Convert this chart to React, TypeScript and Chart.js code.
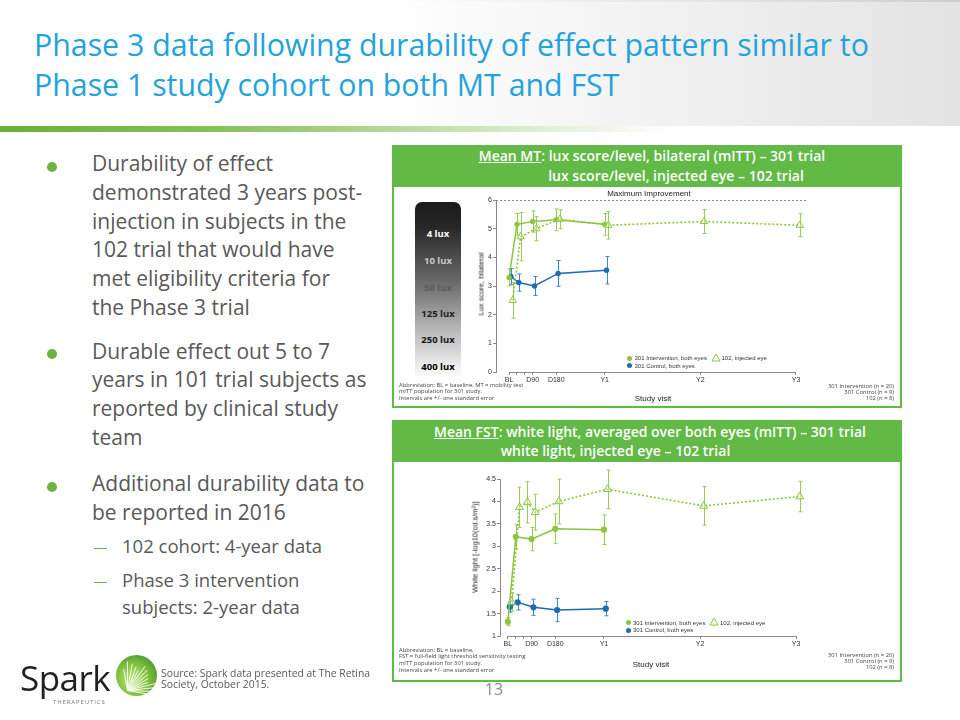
import React, { useEffect, useRef } from "react";
import { Chart, registerables } from "chart.js";
Chart.register(...registerables);

// ---------------- data ----------------
const VISIT_TICKS = [0, 30, 60, 90, 180, 365, 730, 1095];
const VISIT_TICK_LABELS = ["BL", "", "", "D90", "D180", "Y1", "Y2", "Y3"];

const VISITS_301 = [0, 30, 90, 180, 365];
const VISITS_102_MT = [0, 30, 90, 180, 365, 730, 1095];
const VISITS_102_FST = [0, 30, 60, 90, 180, 365, 730, 1095];

const MT_301_INT = [3.3, 5.15, 5.25, 5.31, 5.15];
const MT_301_INT_SE = [0.3, 0.38, 0.37, 0.38, 0.38];
const MT_301_CTL = [3.33, 3.12, 3.0, 3.44, 3.55];
const MT_301_CTL_SE = [0.28, 0.3, 0.33, 0.45, 0.48];
const MT_102 = [2.5, 4.72, 5.0, 5.33, 5.12, 5.25, 5.12];
const MT_102_SE = [0.62, 0.84, 0.42, 0.33, 0.48, 0.42, 0.4];
const MT_MAX_IMPROVEMENT = 6;

const FST_301_INT = [1.32, 3.21, 3.16, 3.39, 3.37];
const FST_301_INT_SE = [0.09, 0.27, 0.26, 0.33, 0.33];
const FST_301_CTL = [1.65, 1.75, 1.64, 1.58, 1.61];
const FST_301_CTL_SE = [0.12, 0.17, 0.18, 0.26, 0.16];
const FST_102 = [1.76, 3.87, 3.98, 3.76, 4.0, 4.27, 3.9, 4.11];
const FST_102_SE = [0.2, 0.45, 0.46, 0.4, 0.5, 0.43, 0.43, 0.34];

const LUX_LEVELS = ["4 lux", "10 lux", "50 lux", "125 lux", "250 lux", "400 lux"];
const SERIES_NAMES = ["301 Intervention, both eyes", "301 Control, both eyes", "102, injected eye"];
const N_LINES = ["301 Intervention (n = 20)", "301 Control (n = 9)", "102 (n = 8)"];

// ---------------- styles ----------------
const FONT = '"Open Sans", sans-serif';
const ARIAL = '"Liberation Sans", Arial, sans-serif';
const GREEN = "#8cc63f";
const GREEN_ERR = "#98cd55";
const BLUE = "#1d6cb3";
const BLUE_ERR = "#3d86c8";
const PANEL_GREEN = "#62b946";
const AXIS = "#8a8a8a";
const DODGE_CTL = 7;
const DODGE_102 = 14;

function pts(days: number[], vals: number[], dodge: number) {
  return days.map((d, i) => ({ x: d + dodge, y: vals[i] }));
}

const errorBarPlugin = {
  id: "errorBars",
  beforeDatasetsDraw(chart: any) {
    const { ctx } = chart;
    const ys = chart.scales.y;
    chart.data.datasets.forEach((ds: any, di: number) => {
      if (!ds.errors) return;
      const meta = chart.getDatasetMeta(di);
      ctx.save();
      ctx.strokeStyle = ds.errorColor;
      ctx.lineWidth = 1;
      const cap = ds.capWidth || 2;
      meta.data.forEach((pt: any, i: number) => {
        const v = ds.data[i].y;
        const e = ds.errors[i];
        const x = Math.round(pt.x) + 0.5;
        const y1 = ys.getPixelForValue(v + e);
        const y2 = ys.getPixelForValue(v - e);
        ctx.beginPath();
        ctx.moveTo(x, y1);
        ctx.lineTo(x, y2);
        ctx.moveTo(x - cap, y1);
        ctx.lineTo(x + cap, y1);
        ctx.moveTo(x - cap, y2);
        ctx.lineTo(x + cap, y2);
        ctx.stroke();
      });
      ctx.restore();
    });
  },
};

const axesPlugin = {
  id: "customAxes",
  beforeDatasetsDraw(chart: any) {
    const { ctx, chartArea } = chart;
    const xs = chart.scales.x;
    const ys = chart.scales.y;
    ctx.save();
    ctx.strokeStyle = AXIS;
    ctx.lineWidth = 1;
    const yb = Math.round(chartArea.bottom) + 0.5;
    ctx.beginPath();
    ctx.moveTo(xs.getPixelForValue(VISIT_TICKS[0]), yb);
    ctx.lineTo(xs.getPixelForValue(VISIT_TICKS[VISIT_TICKS.length - 1]), yb);
    ctx.stroke();
    const maxLine = chart.options.plugins.customAxes?.maxLine;
    if (maxLine != null) {
      const y = Math.round(ys.getPixelForValue(maxLine)) + 0.5;
      ctx.setLineDash([2, 2]);
      ctx.strokeStyle = "#8c8c8c";
      ctx.beginPath();
      ctx.moveTo(chartArea.left, y);
      ctx.lineTo(chartArea.right, y);
      ctx.stroke();
    }
    ctx.restore();
  },
};

type ChartSpec = {
  int: number[];
  intSe: number[];
  ctl: number[];
  ctlSe: number[];
  v102: number[];
  se102: number[];
  visits102: number[];
  yMin: number;
  yMax: number;
  yStep: number;
  xMin: number;
  xMax: number;
  padTop: number;
  padRight: number;
  yWidth: number;
  xHeight: number;
  maxLine?: number;
  r: number;
  tri: number;
};

function buildConfig(s: ChartSpec): any {
  const tickFont = { family: ARIAL, size: 7 };
  return {
    type: "line",
    data: {
      datasets: [
        {
          label: SERIES_NAMES[2],
          data: pts(s.visits102, s.v102, DODGE_102),
          borderColor: GREEN,
          backgroundColor: "rgba(255,255,255,0)",
          borderWidth: 1.6,
          borderDash: [2, 2],
          pointStyle: "triangle",
          pointRadius: s.tri,
          pointBorderWidth: 1,
          pointBorderColor: GREEN,
          pointBackgroundColor: "rgba(255,255,255,0.35)",
          errors: s.se102,
          errorColor: GREEN_ERR,
          capWidth: 2,
          clip: false,
        },
        {
          label: SERIES_NAMES[0],
          data: pts(VISITS_301, s.int, 0),
          borderColor: GREEN,
          backgroundColor: GREEN,
          borderWidth: 1.5,
          pointRadius: s.r,
          pointBorderWidth: 0,
          pointBackgroundColor: GREEN,
          errors: s.intSe,
          errorColor: GREEN_ERR,
          capWidth: 2,
          clip: false,
        },
        {
          label: SERIES_NAMES[1],
          data: pts(VISITS_301, s.ctl, DODGE_CTL),
          borderColor: BLUE,
          backgroundColor: BLUE,
          borderWidth: 1.5,
          pointRadius: s.r,
          pointBorderWidth: 0,
          pointBackgroundColor: BLUE,
          errors: s.ctlSe,
          errorColor: BLUE_ERR,
          capWidth: 2,
          clip: false,
        },
      ],
    },
    options: {
      animation: false,
      responsive: false,
      events: [],
      layout: { autoPadding: false, padding: { left: 0, top: s.padTop, right: s.padRight, bottom: 0 } },
      plugins: {
        legend: { display: false },
        tooltip: { enabled: false },
        customAxes: { maxLine: s.maxLine },
      },
      scales: {
        x: {
          type: "linear",
          min: s.xMin,
          max: s.xMax,
          afterBuildTicks: (sc: any) => {
            sc.ticks = VISIT_TICKS.map((v) => ({ value: v }));
          },
          afterFit: (sc: any) => {
            sc.height = s.xHeight;
          },
          ticks: {
            autoSkip: false,
            maxRotation: 0,
            padding: 1,
            font: tickFont,
            color: "#333",
            callback: (_v: any, i: number) => VISIT_TICK_LABELS[i],
          },
          grid: { display: true, drawOnChartArea: false, drawTicks: true, tickLength: 3, color: AXIS },
          border: { display: false },
        },
        y: {
          min: s.yMin,
          max: s.yMax,
          afterFit: (sc: any) => {
            sc.width = s.yWidth;
          },
          ticks: { stepSize: s.yStep, padding: 1, font: tickFont, color: "#333", callback: (v: any) => String(v) },
          grid: { display: true, drawOnChartArea: false, drawTicks: true, tickLength: 3, color: AXIS },
          border: { display: true, color: AXIS, width: 1 },
        },
      },
    },
    plugins: [errorBarPlugin, axesPlugin],
  };
}

function ChartCanvas({ spec, left, top, width, height }: { spec: ChartSpec; left: number; top: number; width: number; height: number }) {
  const ref = useRef<HTMLCanvasElement>(null);
  useEffect(() => {
    const chart = new Chart(ref.current as HTMLCanvasElement, buildConfig(spec));
    return () => chart.destroy();
  }, []);
  return <canvas ref={ref} width={width} height={height} style={{ position: "absolute", left, top, width, height }} />;
}

// ---------------- text helpers ----------------
type TP = {
  x: number;
  y: number;
  size: number;
  lh?: number;
  align?: "left" | "center" | "right";
  color?: string;
  weight?: number;
  family?: string;
  children: any;
  style?: any;
};
function T({ x, y, size, lh, align = "left", color = "#333", weight = 400, family = FONT, children, style }: TP) {
  const L = lh ?? Math.round(size * 1.3);
  const base: any = {
    position: "absolute",
    top: y - L / 2,
    height: L,
    lineHeight: `${L}px`,
    fontSize: size,
    color,
    fontWeight: weight,
    fontFamily: family,
    whiteSpace: "nowrap",
  };
  if (align === "left") base.left = x;
  if (align === "center") {
    base.left = x - 400;
    base.width = 800;
    base.textAlign = "center";
  }
  if (align === "right") {
    base.left = x - 800;
    base.width = 800;
    base.textAlign = "right";
  }
  return <div style={{ ...base, ...style }}>{children}</div>;
}

function Legend({ x, y1, y2 }: { x: number; y1: number; y2: number }) {
  const fs = 6;
  const dot = (c: string, cy: number) => (
    <div style={{ position: "absolute", left: x - 2.5, top: cy - 2.5, width: 5, height: 5, borderRadius: 3, background: c }} />
  );
  return (
    <>
      {dot(GREEN, y1)}
      <T x={x + 5} y={y1} size={fs} family={ARIAL} color="#333">{SERIES_NAMES[0]}</T>
      <svg style={{ position: "absolute", left: x + 81, top: y1 - 5.5 }} width={10} height={9}>
        <polygon points="5,1 9,8 1,8" fill="none" stroke={GREEN} strokeWidth={1} />
      </svg>
      <T x={x + 92} y={y1} size={fs} family={ARIAL} color="#333">{SERIES_NAMES[2]}</T>
      {dot(BLUE, y2)}
      <T x={x + 5} y={y2} size={fs} family={ARIAL} color="#333">{SERIES_NAMES[1]}</T>
    </>
  );
}

function Panel({ top, height }: { top: number; height: number }) {
  return (
    <div
      style={{
        position: "absolute",
        left: 392,
        top,
        width: 510,
        height,
        boxSizing: "border-box",
        border: `2px solid ${PANEL_GREEN}`,
        background: "#fff",
      }}
    >
      <div style={{ position: "absolute", left: 0, top: 0, right: 0, height: 40, background: PANEL_GREEN }} />
    </div>
  );
}

const BULLETS = [
  { cy: 165.7, lines: ["Durability of effect", "demonstrated 3 years post-", "injection in subjects in the", "102 trial that would have", "met eligibility criteria for", "the Phase 3 trial"] },
  { cy: 353, lines: ["Durable effect out 5 to 7", "years in 101 trial subjects as", "reported by clinical study", "team"] },
  { cy: 485.7, lines: ["Additional durability data to", "be reported in 2016"] },
];
const SUBS = [
  { cy: 548.3, lines: ["102 cohort: 4-year data"] },
  { cy: 582.3, lines: ["Phase 3 intervention", "subjects: 2-year data"] },
];

function Logo() {
  const cx = 136;
  const cy = 675;
  const r = 20.5;
  const ox = 127;
  const oy = 690;
  const angles = [-100, -90, -80, -70, -62, -54, -46, -38, -30, -22, -14, -6, 2, 10];
  return (
    <>
      <svg style={{ position: "absolute", left: cx - r - 1, top: cy - r - 1 }} width={2 * r + 2} height={2 * r + 2}>
        <defs>
          <radialGradient id="lg" cx="40%" cy="60%" r="65%">
            <stop offset="0%" stopColor="#c4e48a" />
            <stop offset="55%" stopColor="#86c441" />
            <stop offset="100%" stopColor="#4f9e2f" />
          </radialGradient>
          <clipPath id="cc">
            <circle cx={r + 1} cy={r + 1} r={r} />
          </clipPath>
        </defs>
        <circle cx={r + 1} cy={r + 1} r={r} fill="url(#lg)" />
        <g clipPath="url(#cc)" stroke="#ffffff" strokeWidth={1} opacity={0.9}>
          {angles.map((a, i) => {
            const len = 22 + ((i * 7) % 9);
            const x0 = ox - (cx - r - 1);
            const y0 = oy - (cy - r - 1);
            return (
              <line
                key={i}
                x1={x0}
                y1={y0}
                x2={x0 + len * Math.cos((a * Math.PI) / 180)}
                y2={y0 + len * Math.sin((a * Math.PI) / 180)}
              />
            );
          })}
        </g>
      </svg>
      <T x={20} y={678} size={35} lh={42} color="#231f20" style={{ letterSpacing: -0.5 }}>Spark</T>
      <T x={53} y={702} size={6} lh={8} color="#7a7a7a" style={{ letterSpacing: 0.9 }}>THERAPEUTICS</T>
    </>
  );
}

export default function App() {
  const mtSpec: ChartSpec = {
    int: MT_301_INT,
    intSe: MT_301_INT_SE,
    ctl: MT_301_CTL,
    ctlSe: MT_301_CTL_SE,
    v102: MT_102,
    se102: MT_102_SE,
    visits102: VISITS_102_MT,
    yMin: 0,
    yMax: 6,
    yStep: 1,
    xMin: -50,
    xMax: 1137,
    padTop: 12,
    padRight: 13,
    yWidth: 56,
    xHeight: 41,
    maxLine: MT_MAX_IMPROVEMENT,
    r: 2.7,
    tri: 4.2,
  };
  const fstSpec: ChartSpec = {
    int: FST_301_INT,
    intSe: FST_301_INT_SE,
    ctl: FST_301_CTL,
    ctlSe: FST_301_CTL_SE,
    v102: FST_102,
    se102: FST_102_SE,
    visits102: VISITS_102_FST,
    yMin: 1,
    yMax: 4.5,
    yStep: 0.5,
    xMin: -30,
    xMax: 1110,
    padTop: 12,
    padRight: 20,
    yWidth: 60,
    xHeight: 44,
    r: 3.1,
    tri: 4.6,
  };

  const bulletColor = "#595959";
  return (
    <div style={{ position: "absolute", left: 0, top: 0, width: 960, height: 720, overflow: "hidden", background: "#fff", fontFamily: FONT }}>
      {/* header */}
      <div style={{ position: "absolute", left: 0, top: 0, width: 960, height: 126, background: "linear-gradient(90deg,#ffffff 0%,#ffffff 40%,#e3e3e3 100%)" }} />
      <div style={{ position: "absolute", left: 0, top: 0, width: 960, height: 2, background: "linear-gradient(90deg,#ffffff 40%,#cfcfcf 100%)" }} />
      <div style={{ position: "absolute", left: 0, top: 126, width: 960, height: 6, background: "linear-gradient(90deg,#67b13c 0%,#84c158 22%,#b9da9d 42%,#e4f1da 58%,#ffffff 70%)" }} />
      <T x={34} y={44.5} size={30.3} lh={40} color="#23a3dc">Phase 3 data following durability of effect pattern similar to</T>
      <T x={34} y={84.5} size={30.3} lh={40} color="#23a3dc">Phase 1 study cohort on both MT and FST</T>

      {/* bullets */}
      {BULLETS.map((b, bi) => (
        <React.Fragment key={bi}>
          <div style={{ position: "absolute", left: 47, top: b.cy - 4, width: 10, height: 10, borderRadius: 5, background: "#6cb33f" }} />
          {b.lines.map((ln, i) => (
            <T key={i} x={92} y={b.cy - 2.5 + i * 28.7} size={21} lh={28} color={bulletColor}>{ln}</T>
          ))}
        </React.Fragment>
      ))}
      {SUBS.map((b, bi) => (
        <React.Fragment key={bi}>
          <div style={{ position: "absolute", left: 94, top: b.cy - 0.5, width: 13, height: 1.3, background: "#6cb33f" }} />
          {b.lines.map((ln, i) => (
            <T key={i} x={122} y={b.cy - 2.2 + i * 26.7} size={18.5} lh={26} color={bulletColor}>{ln}</T>
          ))}
        </React.Fragment>
      ))}

      {/* top panel */}
      <Panel top={145} height={263} />
      <T x={652} y={155.5} size={14} lh={19} align="center" color="#fff" weight={600}>
        <span style={{ textDecoration: "underline" }}>Mean MT</span>: lux score/level, bilateral (mITT) – 301 trial
      </T>
      <T x={676} y={175} size={14} lh={19} align="center" color="#fff" weight={600}>lux score/level, injected eye – 102 trial</T>

      <div style={{ position: "absolute", left: 415, top: 202, width: 46, height: 174, borderRadius: "7px 7px 0 0", background: "linear-gradient(180deg,#1b1b1b 0%,#262626 14%,#6f6f6f 48%,#b4b4b4 72%,#fbfbfb 100%)" }} />
      {LUX_LEVELS.map((l, i) => (
        <T key={l} x={438} y={[234.3, 260.7, 287.7, 313.7, 340, 366.7][i]} size={9.5} lh={14} align="center" weight={700}
          color={["#ffffff", "#c9c9c9", "#5c5c5c", "#1f1f1f", "#141414", "#000000"][i]}>{l}</T>
      ))}

      <ChartCanvas spec={mtSpec} left={440} top={188} width={380} height={225} />
      <T x={649} y={194} size={8} family={ARIAL} align="center" color="#222">Maximum Improvement</T>
      <div style={{ position: "absolute", left: 480.5, top: 283.5, transform: "translate(-50%,-50%) rotate(-90deg)", fontFamily: ARIAL, fontSize: 7.5, color: "#222", whiteSpace: "nowrap" }}>Lux score, bilateral</div>
      <T x={653} y={399} size={8} family={ARIAL} align="center" color="#222">Study visit</T>
      <Legend x={629.5} y1={358.3} y2={365.7} />
      <T x={399} y={385} size={5.8} lh={7} color="#444">Abbreviation: BL = baseline, MT = mobility test</T>
      <T x={399} y={391.7} size={5.8} lh={7} color="#444">mITT population for 301 study.</T>
      <T x={399} y={398.3} size={5.8} lh={7} color="#444">Intervals are +/- one standard error</T>
      {N_LINES.map((t, i) => (
        <T key={t} x={894} y={386.7 + i * 6} size={5.8} lh={7} align="right" color="#444">{t}</T>
      ))}

      {/* bottom panel */}
      <Panel top={420} height={262} />
      <T x={650} y={431} size={14} lh={19} align="center" color="#fff" weight={600}>
        <span style={{ textDecoration: "underline" }}>Mean FST</span>: white light, averaged over both eyes (mITT) – 301 trial
      </T>
      <T x={615.5} y={450.5} size={14} lh={19} align="center" color="#fff" weight={600}>white light, injected eye – 102 trial</T>

      <ChartCanvas spec={fstSpec} left={440} top={467} width={380} height={213} />
      <div style={{ position: "absolute", left: 474.5, top: 547, transform: "translate(-50%,-50%) rotate(-90deg)", fontFamily: ARIAL, fontSize: 7.5, color: "#222", whiteSpace: "nowrap" }}>White light [-log10(cd.s/m²)]</div>
      <T x={651} y={664.5} size={8} family={ARIAL} align="center" color="#222">Study visit</T>
      <Legend x={628} y1={622.7} y2={630.3} />
      <T x={399} y={650} size={5.8} lh={7} color="#444">Abbreviation: BL = baseline,</T>
      <T x={399} y={656.7} size={5.8} lh={7} color="#444">FST = full-field light threshold sensitivity testing</T>
      <T x={399} y={663.3} size={5.8} lh={7} color="#444">mITT population for 301 study.</T>
      <T x={399} y={670.3} size={5.8} lh={7} color="#444">Intervals are +/- one standard error</T>
      {N_LINES.map((t, i) => (
        <T key={t} x={894} y={655 + i * 6} size={5.8} lh={7} align="right" color="#444">{t}</T>
      ))}

      {/* footer */}
      <Logo />
      <T x={161} y={673} size={10.4} lh={11} color="#595959">Source: Spark data presented at The Retina</T>
      <T x={161} y={684} size={10.4} lh={11} color="#595959">Society, October 2015.</T>
      <T x={494} y={689} size={16} lh={20} align="center" color="#8a8a8a">13</T>
    </div>
  );
}
